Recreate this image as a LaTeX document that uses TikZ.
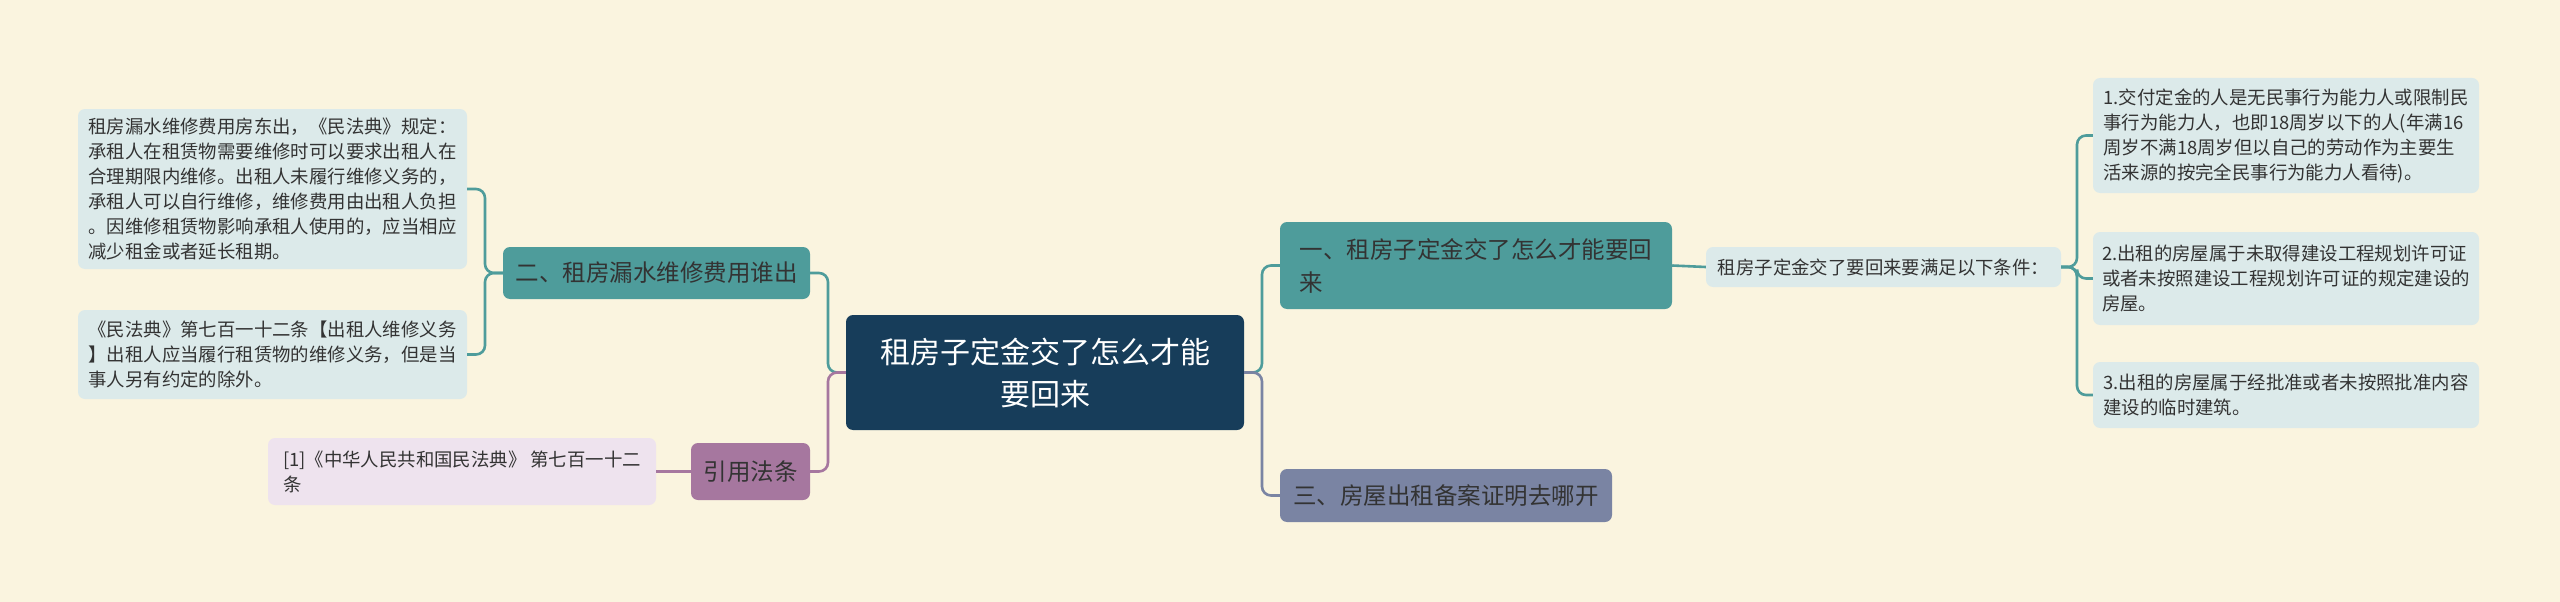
\documentclass[tikz,border=0pt]{standalone}
\usepackage{fontspec}
\setmainfont{Noto Sans CJK SC}
\definecolor{bgc}{HTML}{FAF4DF}
\definecolor{rootc}{HTML}{173D5A}
\definecolor{tealc}{HTML}{4E9C9B}
\definecolor{slatec}{HTML}{7A84A3}
\definecolor{purpc}{HTML}{A6779F}
\definecolor{leafb}{HTML}{DCEAEA}
\definecolor{leafp}{HTML}{EEE3EE}
\definecolor{txt}{HTML}{333333}
\tikzset{
  box/.style={rounded corners=7pt, inner xsep=9pt, inner ysep=0pt, align=left, text=txt},
  rootbox/.style={box, fill=rootc, text=white, align=center, font=\fontsize{30}{42}\selectfont},
  branchbox/.style={box, font=\fontsize{23.5}{33}\selectfont},
  leafbox/.style={box, font=\fontsize{18.4}{25}\selectfont},
  conn/.style={line width=2.6pt, rounded corners=9pt},
}
\begin{document}
\begin{tikzpicture}[x=1pt,y=-1pt]
\fill[bgc] (0,0) rectangle (2560,602);
\useasboundingbox (0,0) rectangle (2560,602);

\node[rootbox, minimum width=398, minimum height=115] (root) at (1045,372.5) {租房子定金交了怎么才能\\要回来};

\node[branchbox, fill=tealc, minimum width=392, minimum height=87] (b1) at (1476,265.5) {一、租房子定金交了怎么才能要回\\来};
\node[leafbox, fill=leafb, minimum width=355, minimum height=40] (c) at (1883.5,267) {租房子定金交了要回来要满足以下条件：};
\node[leafbox, fill=leafb, minimum width=386, minimum height=115] (s1) at (2286,135.5) {1.交付定金的人是无民事行为能力人或限制民\\事行为能力人，也即18周岁以下的人(年满16\\周岁不满18周岁但以自己的劳动作为主要生\\活来源的按完全民事行为能力人看待)。};
\node[leafbox, fill=leafb, minimum width=386, minimum height=93] (s2) at (2286,278.5) {2.出租的房屋属于未取得建设工程规划许可证\\或者未按照建设工程规划许可证的规定建设的\\房屋。};
\node[leafbox, fill=leafb, minimum width=386, minimum height=66] (s3) at (2286,395) {3.出租的房屋属于经批准或者未按照批准内容\\建设的临时建筑。};

\node[branchbox, fill=slatec, minimum width=332, minimum height=53] (b3) at (1446,495.5) {三、房屋出租备案证明去哪开};

\node[branchbox, fill=tealc, minimum width=307, minimum height=52] (b2) at (656.5,273) {二、租房漏水维修费用谁出};
\node[leafbox, fill=leafb, minimum width=389, minimum height=160] (l1) at (272.5,189) {租房漏水维修费用房东出，《民法典》规定：\\承租人在租赁物需要维修时可以要求出租人在\\合理期限内维修。出租人未履行维修义务的，\\承租人可以自行维修，维修费用由出租人负担\\。因维修租赁物影响承租人使用的，应当相应\\减少租金或者延长租期。};
\node[leafbox, fill=leafb, minimum width=389, minimum height=89] (l2) at (272.5,354.5) {《民法典》第七百一十二条【出租人维修义务\\】出租人应当履行租赁物的维修义务，但是当\\事人另有约定的除外。};

\node[branchbox, fill=purpc, minimum width=119, minimum height=57] (q) at (750.5,471.5) {引用法条};
\node[leafbox, fill=leafp, minimum width=388, minimum height=67] (r1) at (462,471.5) {[1]《中华人民共和国民法典》 第七百一十二\\条};

\coordinate (jl) at (828,372.5);
\coordinate (jr) at (1262,372.5);
\coordinate (jc) at (2077,267);
\coordinate (j2) at (485,273);

\draw[conn, tealc] (root.west) -- (jl) |- (b2.east);
\draw[conn, purpc] (root.west) -- (jl) |- (q.east);
\draw[conn, tealc] (root.east) -- (jr) |- (b1.west);
\draw[conn, slatec] (root.east) -- (jr) |- (b3.west);
\draw[conn, tealc] (b1.east) -- (c.west);
\draw[conn, tealc] (c.east) -- (jc) |- (s1.west);
\draw[conn, tealc] (c.east) -- (jc) |- (s2.west);
\draw[conn, tealc] (c.east) -- (jc) |- (s3.west);
\draw[conn, tealc] (b2.west) -- (j2) |- (l1.east);
\draw[conn, tealc] (b2.west) -- (j2) |- (l2.east);
\draw[conn, purpc] (q.west) -- (r1.east);
\end{tikzpicture}
\end{document}
